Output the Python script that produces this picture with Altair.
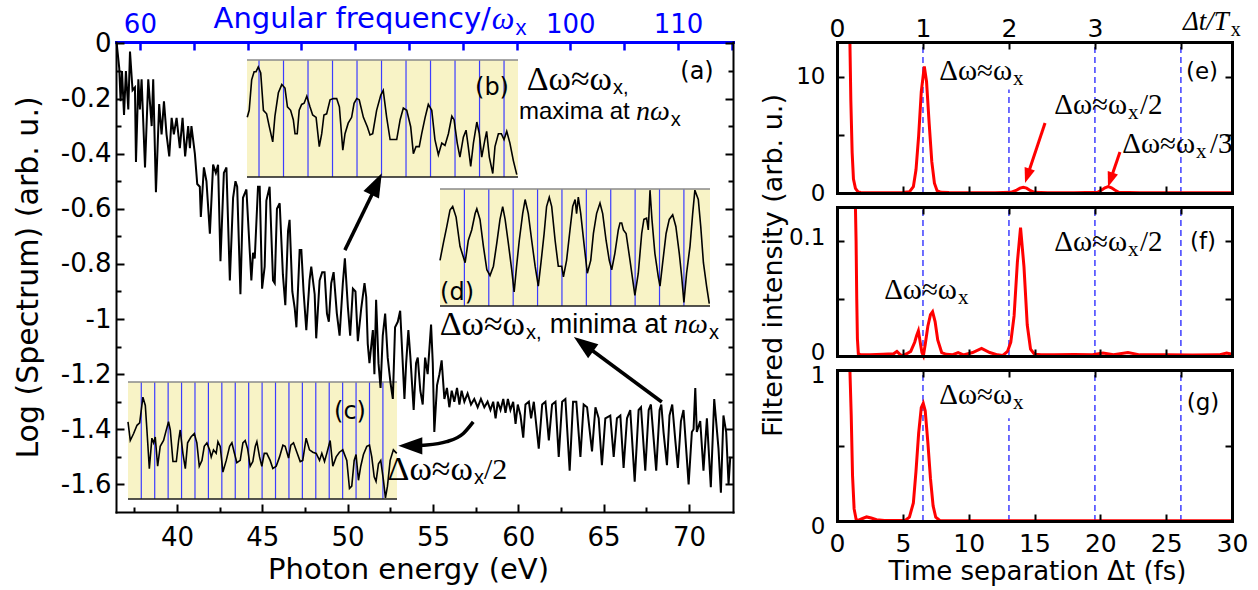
import altair as alt
import pandas as pd

W, H = 1258, 590
SANS, ARIAL, SERIF = "DejaVu Sans", "Liberation Sans", "Liberation Serif"
BLUE, RED = "#0000ff", "#ff0000"
YELLOW, GRID_BLUE, DASH_BLUE = "#f8f3c6", "#3c3cff", "#2020ff"
HEAD = "M0,0L0.36,1L-0.36,1Z"   # arrow head, tip at the anchor point

# ---------------- panel (a): photon spectrum (eV, log10 spectrum) ----------------
spectrum = [
    (36.47, 0.00), (36.62, -0.09), (36.70, -0.21), (36.78, -0.10), (36.90, -0.26), (37.01, -0.10),
    (37.15, -0.24), (37.25, -0.03), (37.40, -0.17), (37.54, -0.16), (37.60, -0.43), (37.74, -0.13),
    (37.83, -0.24), (37.93, -0.13), (38.13, -0.45), (38.32, -0.13), (38.52, -0.30), (38.61, -0.13),
    (38.77, -0.54), (38.96, -0.22), (39.10, -0.33), (39.24, -0.21), (39.39, -0.33), (39.55, -0.41),
    (39.69, -0.27), (39.82, -0.33), (39.98, -0.27), (40.17, -0.38), (40.33, -0.27), (40.48, -0.41),
    (40.66, -0.30), (40.76, -0.38), (40.85, -0.30), (41.05, -0.40), (41.19, -0.51), (41.34, -0.52),
    (41.40, -0.63), (41.58, -0.45), (41.73, -0.50), (41.93, -0.69), (42.12, -0.44), (42.28, -0.47),
    (42.41, -0.44), (42.55, -0.79), (42.75, -0.47), (42.90, -0.45), (43.10, -0.86), (43.29, -0.56),
    (43.43, -0.50), (43.53, -0.52), (43.72, -0.91), (43.87, -0.56), (44.07, -0.53), (44.36, -0.86),
    (44.46, -0.76), (44.56, -0.78), (44.75, -0.52), (44.85, -0.52), (44.99, -0.89), (45.14, -0.81),
    (45.24, -0.57), (45.43, -0.52), (45.63, -0.86), (45.73, -0.87), (45.86, -0.60), (46.02, -0.58),
    (46.21, -0.84), (46.35, -0.95), (46.51, -0.68), (46.60, -0.64), (46.76, -0.90), (46.90, -0.96),
    (47.00, -1.03), (47.19, -0.75), (47.29, -0.75), (47.42, -0.90), (47.58, -1.04), (47.77, -0.86),
    (47.87, -0.81), (48.07, -0.91), (48.16, -1.07), (48.36, -0.86), (48.51, -0.83), (48.65, -0.83),
    (48.79, -0.98), (48.90, -1.01), (49.04, -0.87), (49.18, -0.83), (49.37, -0.98), (49.53, -1.06),
    (49.72, -0.87), (49.84, -0.78), (50.02, -0.96), (50.15, -1.06), (50.31, -0.89), (50.46, -0.90),
    (50.60, -1.08), (50.80, -0.96), (50.99, -0.87), (51.09, -0.92), (51.18, -1.09), (51.28, -1.16),
    (51.38, -1.10), (51.48, -1.04), (51.57, -1.20), (51.67, -0.93), (51.81, -1.16), (51.93, -1.25),
    (52.06, -1.06), (52.20, -0.98), (52.35, -1.14), (52.51, -1.23), (52.65, -1.29), (52.78, -1.03),
    (52.94, -1.01), (53.08, -0.97), (53.23, -1.16), (53.33, -1.29), (53.43, -1.16), (53.56, -1.04),
    (53.68, -1.14), (53.87, -1.33), (54.01, -1.16), (54.11, -1.14), (54.26, -1.26), (54.40, -1.31),
    (54.54, -1.14), (54.69, -1.20), (54.89, -1.02), (54.99, -1.16), (55.08, -1.41), (55.24, -1.24),
    (55.38, -1.20), (55.51, -1.15), (55.67, -1.29), (55.82, -1.25), (55.96, -1.32), (56.10, -1.26),
    (56.25, -1.30), (56.41, -1.25), (56.55, -1.31), (56.68, -1.26), (56.84, -1.30), (57.03, -1.27),
    (57.23, -1.31), (57.42, -1.29), (57.62, -1.32), (57.81, -1.29), (58.01, -1.32), (58.20, -1.30),
    (58.37, -1.33), (58.53, -1.30), (58.67, -1.36), (58.80, -1.30), (58.96, -1.33), (59.12, -1.29),
    (59.25, -1.34), (59.39, -1.29), (59.54, -1.33), (59.70, -1.30), (59.84, -1.38), (59.97, -1.31),
    (60.13, -1.35), (60.29, -1.43), (60.42, -1.31), (60.62, -1.30), (60.75, -1.36), (60.91, -1.30),
    (61.20, -1.47), (61.40, -1.31), (61.59, -1.30), (61.79, -1.44), (61.98, -1.31), (62.18, -1.30),
    (62.37, -1.50), (62.57, -1.30), (62.76, -1.29), (63.01, -1.55), (63.21, -1.30), (63.40, -1.30),
    (63.64, -1.50), (63.83, -1.31), (64.03, -1.32), (64.32, -1.48), (64.52, -1.32), (64.71, -1.36),
    (64.90, -1.53), (65.10, -1.36), (65.39, -1.35), (65.59, -1.50), (65.78, -1.36), (65.98, -1.35),
    (66.17, -1.54), (66.37, -1.36), (66.56, -1.33), (66.82, -1.59), (67.05, -1.33), (67.19, -1.32),
    (67.44, -1.55), (67.64, -1.33), (67.77, -1.31), (68.08, -1.55), (68.28, -1.33), (68.38, -1.31),
    (68.51, -1.41), (68.71, -1.53), (68.86, -1.35), (69.02, -1.31), (69.20, -1.44), (69.35, -1.54),
    (69.53, -1.37), (69.68, -1.33), (69.98, -1.60), (70.17, -1.41), (70.27, -1.40), (70.37, -1.25),
    (70.46, -1.41), (70.66, -1.37), (70.85, -1.55), (71.05, -1.36), (71.28, -1.61), (71.48, -1.29),
    (71.73, -1.47), (71.87, -1.63), (72.02, -1.35), (72.18, -1.41), (72.32, -1.60), (72.42, -1.50),
]

# ---------------- insets: (frequency in units of omega_x from first marker, normalised signal) ----------------
inset_b = [
    (-0.48, 0.51), (-0.40, 0.57), (-0.30, 0.83), (-0.20, 0.90), (-0.12, 0.90), (-0.03, 0.94), (0.07, 0.89),
    (0.18, 0.57), (0.31, 0.54), (0.42, 0.43), (0.56, 0.30), (0.65, 0.52), (0.79, 0.72), (0.93, 0.79),
    (1.06, 0.76), (1.16, 0.60), (1.29, 0.57), (1.40, 0.49), (1.47, 0.37), (1.56, 0.37), (1.64, 0.57),
    (1.74, 0.62), (1.84, 0.63), (1.95, 0.69), (2.08, 0.60), (2.19, 0.53), (2.33, 0.51), (2.46, 0.26),
    (2.56, 0.37), (2.65, 0.53), (2.76, 0.54), (2.90, 0.66), (3.03, 0.67), (3.17, 0.67), (3.28, 0.60),
    (3.42, 0.23), (3.51, 0.37), (3.64, 0.46), (3.78, 0.51), (3.88, 0.63), (3.99, 0.67), (4.09, 0.66),
    (4.26, 0.51), (4.42, 0.43), (4.53, 0.36), (4.64, 0.37), (4.80, 0.57), (4.97, 0.70), (5.07, 0.74),
    (5.21, 0.51), (5.35, 0.32), (5.46, 0.32), (5.62, 0.32), (5.76, 0.49), (5.89, 0.59), (6.03, 0.57),
    (6.19, 0.43), (6.30, 0.20), (6.41, 0.26), (6.54, 0.26), (6.64, 0.37), (6.78, 0.51), (6.91, 0.62),
    (7.05, 0.57), (7.18, 0.32), (7.32, 0.19), (7.46, 0.29), (7.59, 0.27), (7.73, 0.37), (7.87, 0.52),
    (7.96, 0.49), (8.09, 0.29), (8.20, 0.17), (8.34, 0.34), (8.45, 0.40), (8.54, 0.26), (8.64, 0.09),
    (8.75, 0.29), (8.89, 0.47), (8.99, 0.37), (9.09, 0.17), (9.22, 0.32), (9.29, 0.39), (9.40, 0.17),
    (9.54, 0.03), (9.63, 0.26), (9.77, 0.37), (9.89, 0.37), (10.00, 0.32), (10.11, 0.39), (10.24, 0.29),
    (10.38, 0.14), (10.52, 0.02),
]
inset_c = [
    (-0.99, 0.66), (-0.82, 0.50), (-0.57, 0.56), (-0.32, 0.63), (-0.12, 0.65), (0.12, 0.87), (0.30, 0.80),
    (0.42, 0.59), (0.60, 0.26), (0.79, 0.52), (0.92, 0.48), (1.04, 0.53), (1.22, 0.28), (1.41, 0.45),
    (1.66, 0.50), (1.84, 0.58), (2.03, 0.66), (2.16, 0.59), (2.36, 0.32), (2.61, 0.32), (2.78, 0.50),
    (2.90, 0.59), (3.10, 0.39), (3.28, 0.26), (3.45, 0.48), (3.70, 0.53), (3.95, 0.56), (4.14, 0.48),
    (4.32, 0.28), (4.52, 0.33), (4.69, 0.45), (4.89, 0.48), (5.09, 0.42), (5.21, 0.36), (5.38, 0.42),
    (5.58, 0.39), (5.71, 0.49), (5.88, 0.45), (6.08, 0.23), (6.33, 0.33), (6.58, 0.45), (6.75, 0.48),
    (6.92, 0.40), (7.12, 0.31), (7.37, 0.33), (7.57, 0.48), (7.74, 0.50), (7.92, 0.43), (8.11, 0.28),
    (8.31, 0.32), (8.49, 0.45), (8.61, 0.49), (8.81, 0.36), (8.98, 0.28), (9.16, 0.39), (9.35, 0.39),
    (9.60, 0.33), (9.80, 0.26), (10.05, 0.28), (10.30, 0.36), (10.55, 0.46), (10.72, 0.45), (10.97, 0.35),
    (11.14, 0.46), (11.34, 0.48), (11.59, 0.40), (11.84, 0.32), (12.03, 0.33), (12.28, 0.52), (12.53, 0.42),
    (12.78, 0.40), (13.03, 0.39), (13.28, 0.33), (13.45, 0.39), (13.65, 0.32), (13.82, 0.39), (14.07, 0.50),
    (14.27, 0.28), (14.52, 0.36), (14.76, 0.40), (15.01, 0.42), (15.31, 0.33), (15.51, 0.09), (15.68, 0.11),
    (15.86, 0.33), (16.00, 0.38), (16.18, 0.16), (16.35, 0.28), (16.55, 0.38), (16.80, 0.45), (17.00, 0.46),
    (17.17, 0.36), (17.35, 0.19), (17.49, 0.15), (17.67, 0.30), (17.84, 0.33), (18.04, 0.16), (18.19, 0.01),
    (18.34, 0.11), (18.54, 0.33), (18.78, 0.42), (19.03, 0.39),
]
inset_d = [
    (-1.00, 0.39), (-0.86, 0.54), (-0.72, 0.68), (-0.59, 0.82), (-0.48, 0.85), (-0.34, 0.76), (-0.18, 0.51),
    (0.03, 0.37), (0.16, 0.56), (0.30, 0.65), (0.44, 0.79), (0.51, 0.83), (0.64, 0.74), (0.78, 0.51),
    (0.92, 0.31), (1.05, 0.26), (1.19, 0.34), (1.33, 0.54), (1.46, 0.74), (1.57, 0.85), (1.67, 0.74),
    (1.80, 0.54), (1.94, 0.31), (2.04, 0.12), (2.14, 0.34), (2.25, 0.56), (2.39, 0.79), (2.49, 0.91),
    (2.62, 0.79), (2.76, 0.56), (2.90, 0.34), (3.03, 0.17), (3.14, 0.37), (3.27, 0.62), (3.37, 0.85),
    (3.48, 0.93), (3.58, 0.85), (3.72, 0.56), (3.85, 0.34), (3.99, 0.34), (4.06, 0.25), (4.19, 0.39),
    (4.33, 0.65), (4.44, 0.85), (4.54, 0.91), (4.60, 0.79), (4.67, 0.93), (4.77, 0.79), (4.90, 0.54),
    (5.04, 0.28), (5.18, 0.39), (5.29, 0.62), (5.42, 0.79), (5.56, 0.88), (5.67, 0.79), (5.81, 0.56),
    (5.94, 0.39), (6.04, 0.31), (6.17, 0.45), (6.31, 0.65), (6.38, 0.71), (6.45, 0.71), (6.52, 0.65),
    (6.63, 0.62), (6.79, 0.39), (6.99, 0.09), (7.13, 0.28), (7.27, 0.62), (7.36, 0.74), (7.47, 0.75),
    (7.54, 0.65), (7.61, 0.99), (7.69, 0.74), (7.81, 0.45), (7.95, 0.25), (8.02, 0.17), (8.13, 0.37),
    (8.27, 0.62), (8.40, 0.74), (8.54, 0.78), (8.67, 0.68), (8.81, 0.45), (8.91, 0.25), (9.00, 0.03),
    (9.11, 0.28), (9.25, 0.51), (9.36, 0.79), (9.45, 0.99), (9.59, 0.91), (9.69, 0.68), (9.80, 0.37),
    (9.93, 0.17), (10.04, 0.02),
]

# ---------------- panels (e)-(g): filtered intensity vs time separation (fs) ----------------
filtered_e = [
    (0.98, 14.0), (1.05, 8.0), (1.15, 3.5), (1.25, 1.2), (1.40, 0.4), (1.60, 0.1), (1.80, 0.04), (2.2, 0.03),
    (3.0, 0.03), (4.0, 0.02), (5.0, 0.04), (5.5, 0.1), (5.8, 0.55), (6.0, 2.0), (6.2, 4.9), (6.4, 8.7),
    (6.63, 10.9), (6.8, 9.6), (7.0, 6.0), (7.2, 2.7), (7.4, 0.84), (7.6, 0.2), (7.9, 0.06), (8.5, 0.04),
    (10.0, 0.03), (12.0, 0.03), (13.2, 0.06), (13.6, 0.22), (13.9, 0.42), (14.15, 0.5), (14.4, 0.42),
    (14.7, 0.2), (15.0, 0.06), (16.0, 0.03), (18.0, 0.03), (19.8, 0.06), (20.1, 0.25), (20.35, 0.45),
    (20.6, 0.55), (20.85, 0.45), (21.1, 0.25), (21.4, 0.06), (23.0, 0.03), (26.0, 0.03), (30.0, 0.03),
]
filtered_f = [
    (1.40, 0.16), (1.45, 0.10), (1.50, 0.05), (1.55, 0.015), (1.62, 0.002), (1.8, 0.001), (2.5, 0.001),
    (3.5, 0.0015), (4.3, 0.002), (4.55, 0.004), (4.8, 0.0012), (5.0, 0.0004), (5.3, 0.002), (5.6, 0.004),
    (5.9, 0.012), (6.05, 0.018), (6.18, 0.022), (6.32, 0.012), (6.45, 0.003), (6.56, 0.0003), (6.7, 0.010),
    (6.9, 0.026), (7.1, 0.036), (7.26, 0.0386), (7.45, 0.030), (7.65, 0.014), (7.95, 0.003), (8.3, 0.0015),
    (8.8, 0.0012), (9.2, 0.003), (9.6, 0.001), (10.3, 0.003), (10.98, 0.0067), (11.6, 0.003), (12.2, 0.001),
    (12.6, 0.0005), (12.95, 0.004), (13.2, 0.012), (13.45, 0.035), (13.7, 0.082), (13.94, 0.112),
    (14.2, 0.078), (14.45, 0.027), (14.7, 0.006), (15.0, 0.0015), (15.5, 0.001), (16.5, 0.001),
    (18.0, 0.0012), (19.4, 0.001), (20.2, 0.0025), (21.0, 0.001), (22.1, 0.003), (23.0, 0.001),
    (25.0, 0.001), (27.0, 0.0008), (29.0, 0.001), (29.6, 0.0025), (30.0, 0.0015),
]
filtered_g = [
    (0.98, 1.2), (1.08, 0.7), (1.18, 0.3), (1.3, 0.08), (1.45, 0.012), (1.6, 0.004), (1.9, 0.015),
    (2.25, 0.027), (2.6, 0.02), (3.0, 0.008), (3.6, 0.003), (4.5, 0.003), (5.2, 0.005), (5.5, 0.025),
    (5.8, 0.12), (6.0, 0.33), (6.2, 0.58), (6.4, 0.75), (6.55, 0.78), (6.7, 0.73), (6.9, 0.52), (7.1, 0.28),
    (7.3, 0.10), (7.5, 0.025), (7.8, 0.004), (9.0, 0.002), (13.0, 0.002), (20.0, 0.001), (30.0, 0.001),
]

# ---------------- ticks ----------------
energy_major = [40, 45, 50, 55, 60, 65, 70]
energy_minor = [37.5, 42.5, 47.5, 52.5, 57.5, 62.5, 67.5]
log_major = [0, -0.2, -0.4, -0.6, -0.8, -1.0, -1.2, -1.4, -1.6]
log_minor = [-0.1, -0.3, -0.5, -0.7, -0.9, -1.1, -1.3, -1.5]
omega_ticks = [60, 65, 70, 75, 80, 85, 90, 95, 100, 105, 110, 115]
omega_labels = [60, 100, 110]
time_labels = [0, 5, 10, 15, 20, 25, 30]
time_inner = [5, 10, 15, 20, 25]
period_labels = [0, 1, 2, 3]
period_ticks = [1, 2, 3, 4]
panel_yticks = {"e": [0, 5, 10], "f": [0, 0.05, 0.1], "g": [0, 0.5, 1]}
panel_ylabels = {"e": [0, 10], "f": [0, 0.1], "g": [0, 1]}
panel_label_shift = {"e": 0, "f": -4, "g": 5}

# ---------------- layout: pixel ranges and domains ----------------
SPEC_X, SPEC_Y = [116, 733], [512, 42]
E_DOM, LOG_DOM = [36.43, 72.58], [-1.70, 0.005]
OMEGA_X_EV = 0.6305
W_DOM = [E_DOM[0] / OMEGA_X_EV, E_DOM[1] / OMEGA_X_EV]
TIME_X, T_DOM = [837, 1232], [0, 30]
T_X_FS = 6.53
P_DOM = [0, T_DOM[1] / T_X_FS]
PANEL_Y = {"e": [193, 42], "f": [356, 207], "g": [521, 370]}
PANEL_DOM = {"e": [0, 13], "f": [0, 0.13], "g": [0, 1]}
INSETS = [
    (dict(x=[247, 518], y=[177, 60], u=[-0.49, 10.57], n=11), inset_b),
    (dict(x=[128, 397], y=[499, 382], u=[-0.99, 19.05], n=19), inset_c),
    (dict(x=[440, 710], y=[306, 189], u=[-1.0, 10.07], n=10), inset_d),
]
period_marks = {
    "e": [(6.53, 0, 13), (13.06, 0, 8.9), (19.59, 0, 13), (26.12, 0, 13)],
    "f": [(6.53, 0, 0.13), (13.06, 0, 0.13), (19.59, 0, 0.13), (26.12, 0, 0.13)],
    "g": [(6.53, 0, 1), (13.06, 0, 0.68), (19.59, 0, 1), (26.12, 0, 1)],
}

# ---------------- annotations ----------------
spec_tags = [(70.47, -0.104, "(a)"), (58.46, -0.162, "(b)"), (50.14, -1.337, "(c)"), (56.41, -0.906, "(d)")]
spec_dw = [(65.49, -0.133, "Δω≈ω"), (60.39, -1.022, "Δω≈ω"), (57.34, -1.548, "Δω≈ω")]
spec_sub = [(65.49, -0.133, "x,"), (60.39, -1.022, "x,"), (57.34, -1.548, "x"),
            (68.88, -0.249, "x"), (71.11, -1.022, "x")]
spec_words = [(60.04, -0.249, "maxima at", 24), (61.85, -1.022, "minima at", 27)]
spec_nw = [(66.89, -0.249, "nω"), (69.12, -1.022, "nω")]
spec_frac = [(57.99, -1.548, "/2")]
omega_title = [(92.61, 0.088, "Angular frequency/")]
omega_sym = [(92.70, 0.088, "ω")]
omega_sub = [(94.90, 0.088, "x")]
spec_arrows = [(49.84, -0.750, 51.65, -0.520), (68.41, -1.301, 63.92, -1.095)]
spec_bent_arrow = [(53.77, -1.459), (54.63, -1.457), (55.80, -1.445), (56.78, -1.415), (57.36, -1.373)]
spec_heads = [(52.00, -0.471, 26.0), (63.26, -1.065, 306.4), (52.97, -1.460, 270.0)]

panel_dw = {"e": [(13.29, 10.5), (22.03, 7.55), (27.19, 4.20)],
            "f": [(22.03, 0.0995), (9.11, 0.0576)],
            "g": [(13.29, 0.834)]}
panel_frac = {"e": [(23.01, 7.55, "/2"), (28.33, 4.20, "/3")], "f": [(23.01, 0.0995, "/2")], "g": []}
panel_tags = {"e": (27.72, 10.42, "(e)"), "f": (27.80, 0.0995, "(f)"), "g": (27.80, 0.781, "(g)")}
period_title = [(26.28, 14.72, "Δt/T")]
period_sub = [(29.90, 14.72, "x")]
e_arrows = [(15.80, 6.03, 14.52, 1.68), (21.49, 3.53, 20.83, 1.33)]
e_heads = [(14.28, 0.86, 198.4), (20.58, 0.52, 198.9)]

MINUS = "replace(format(datum.value, '~g'), '\u2212', '-')"
PLAIN = "format(datum.value, '~g')"


# ---------------- helpers ----------------
def S(dom, rng, clamp=False):
    kw = dict(domain=list(dom), range=list(rng), nice=False, zero=False)
    if clamp:
        kw["clamp"] = True
    return alt.Scale(**kw)


def xy(xdom, xrng, ydom, yrng, clamp=False, xaxis=None, yaxis=None):
    return dict(x=alt.X("x:Q", scale=S(xdom, xrng), axis=xaxis),
                y=alt.Y("y:Q", scale=S(ydom, yrng, clamp), axis=yaxis))


def spec_xy():
    return xy(E_DOM, SPEC_X, LOG_DOM, SPEC_Y)


def omega_xy():
    return xy(W_DOM, SPEC_X, LOG_DOM, SPEC_Y)


def panel_xy(p, clamp=False):
    return xy(T_DOM, TIME_X, PANEL_DOM[p], PANEL_Y[p], clamp)


def label(rows, enc, **mk):
    mk.setdefault("baseline", "middle")
    df = pd.DataFrame(rows, columns=["x", "y", "t"])
    return alt.Chart(df).mark_text(**mk).encode(text="t:N", **enc)


def shafts(rows, enc, color, width, dash=None):
    df = pd.DataFrame(rows, columns=["x", "y", "x2", "y2"])
    mk = dict(color=color, strokeWidth=width)
    if dash:
        mk["strokeDash"] = dash
    return alt.Chart(df).mark_rule(**mk).encode(x2=alt.X2("x2"), y2=alt.Y2("y2"), **enc)


def heads(rows, enc, color, size):
    df = pd.DataFrame(rows, columns=["x", "y", "a"])
    return alt.Chart(df).mark_point(shape=HEAD, filled=True, color=color, opacity=1,
                                    size=size, strokeWidth=0).encode(
        angle=alt.Angle("a:Q", scale=None), **enc)


OPP = {"bottom": "top", "top": "bottom", "left": "right", "right": "left"}


def off(orient, at):
    return {"bottom": at - H, "top": -at, "left": -at, "right": at - W}[orient]


def edge(orient, at, color="black", width=2.0, **kw):
    base = dict(orient=orient, offset=off(orient, at), domain=True, domainColor=color,
                domainWidth=width, domainCap="square", ticks=False, tickSize=0, labels=False,
                grid=False, title=None, zindex=2)
    base.update(kw)
    return alt.Axis(**base)


def inward(side, at, values, size=8, color="black", width=2.0):
    o = OPP[side]
    return alt.Axis(orient=o, offset=off(o, at), values=values, domain=False, labels=False,
                    ticks=True, tickSize=size, tickWidth=width, tickColor=color,
                    grid=False, title=None, zindex=2)


def lab(size, color="black", pad=6):
    return dict(labels=True, labelFont=SANS, labelFontSize=size, labelColor=color,
                labelPadding=pad, labelFlush=False, labelOverlap=False)


def ttl(text, x, y, size, angle=0):
    return dict(title=text, titleX=x, titleY=y, titleFont=SANS, titleFontSize=size,
                titleFontWeight="normal", titleColor="black", titleAlign="center",
                titleBaseline="middle", titleAngle=angle)


def ghost(xdom, xrng, ydom, yrng, xaxis=None, yaxis=None):
    df = pd.DataFrame({"x": [xdom[0]], "y": [ydom[0]]})
    return alt.Chart(df).mark_point(opacity=0, size=1).encode(
        **xy(xdom, xrng, ydom, yrng, xaxis=xaxis, yaxis=yaxis))


def inset_layers(box, pts):
    ud = box["u"]

    def enc():
        return dict(x=alt.X("x:Q", scale=S(ud, box["x"]), axis=None),
                    y=alt.Y("y:Q", scale=S([0, 1], box["y"]), axis=None))

    bg = alt.Chart(pd.DataFrame({"x": [ud[0]], "x2": [ud[1]], "y": [0], "y2": [1]})).mark_rect(
        color=YELLOW).encode(x2=alt.X2("x2"), y2=alt.Y2("y2"), **enc())
    marks = alt.Chart(pd.DataFrame({"x": list(range(box["n"])), "y": 0, "y2": 1})).mark_rule(
        color=GRID_BLUE, strokeWidth=1.2).encode(y2=alt.Y2("y2"), **enc())
    rims = alt.Chart(pd.DataFrame({"x": [ud[0], ud[0]], "x2": [ud[1], ud[1]], "y": [0, 1],
                                   "c": ["#1a1a1a", "#8a8a8a"]})).mark_rule(strokeWidth=1.5).encode(
        x2=alt.X2("x2"), color=alt.Color("c:N", scale=None), **enc())
    curve = alt.Chart(pd.DataFrame(pts, columns=["x", "y"])).mark_line(
        color="black", strokeWidth=1.6).encode(**enc())
    return [bg, marks, rims, curve]


# ---------------- build ----------------
layers = []
for box, pts in INSETS:
    layers += inset_layers(box, pts)

layers.append(alt.Chart(pd.DataFrame(spectrum, columns=["x", "y"])).mark_line(
    color="black", strokeWidth=2).encode(**spec_xy()))
layers.append(shafts(spec_arrows, spec_xy(), "black", 3.5))
layers.append(alt.Chart(pd.DataFrame(spec_bent_arrow, columns=["x", "y"])).mark_line(
    color="black", strokeWidth=3.5, interpolate="monotone").encode(**spec_xy()))
layers.append(heads(spec_heads, spec_xy(), "black", 2304))

curves = {"e": filtered_e, "f": filtered_f, "g": filtered_g}
for p in "efg":
    layers.append(shafts([(t, a, t, b) for t, a, b in period_marks[p]], panel_xy(p),
                         DASH_BLUE, 1.3, dash=[6, 4]))
    layers.append(alt.Chart(pd.DataFrame(curves[p], columns=["x", "y"])).mark_line(
        color=RED, strokeWidth=3).encode(**panel_xy(p, clamp=True)))
layers.append(shafts(e_arrows, panel_xy("e"), RED, 3))
layers.append(heads(e_heads, panel_xy("e"), RED, 900))

# frame, ticks and labels of panel (a)
layers.append(ghost(E_DOM, SPEC_X, LOG_DOM, SPEC_Y,
                    edge("bottom", SPEC_Y[0], values=energy_major, **lab(26, pad=12),
                         **ttl("Photon energy (eV)", 408, 57, 29)),
                    edge("left", SPEC_X[0], values=log_major, labelExpr=MINUS, **lab(26, pad=5),
                         **ttl("Log (Spectrum) (arb. u.)", 28 - SPEC_X[0], 277, 30, 270))))
layers.append(ghost(W_DOM, SPEC_X, LOG_DOM, SPEC_Y,
                    edge("top", SPEC_Y[1], color=BLUE, width=3, values=omega_labels, **lab(26, BLUE, 5)),
                    edge("left", SPEC_X[1], values=log_major, ticks=True, tickSize=8, tickWidth=2,
                         tickColor="black")))
layers.append(ghost(E_DOM, SPEC_X, LOG_DOM, SPEC_Y,
                    inward("bottom", SPEC_Y[0], energy_major, 8), inward("left", SPEC_X[0], log_major, 8)))
layers.append(ghost(E_DOM, SPEC_X, LOG_DOM, SPEC_Y,
                    inward("bottom", SPEC_Y[0], energy_minor, 5), inward("left", SPEC_X[0], log_minor, 5)))
layers.append(ghost(W_DOM, SPEC_X, LOG_DOM, SPEC_Y,
                    inward("top", SPEC_Y[1], omega_ticks, 8, BLUE, 2.5), inward("right", SPEC_X[1], log_minor, 5)))

# frames, ticks and labels of panels (e)-(g)
for p in "efg":
    yb, yt = PANEL_Y[p]
    ydom, yr = PANEL_DOM[p], PANEL_Y[p]
    if p == "g":
        bx = edge("bottom", yb, width=3, values=time_labels, labelExpr=PLAIN, **lab(25, pad=10),
                  **ttl("Time separation Δt (fs)", 1037, 50, 26))
    else:
        bx = edge("bottom", yb, width=3)
    ly_kw = dict(values=panel_ylabels[p], labelExpr=PLAIN, labelOffset=panel_label_shift[p],
                 **lab(23, pad=12))
    if p == "f":
        ly_kw.update(ttl("Filtered intensity (arb. u.)", 773 - TIME_X[0], 265, 27, 270))
    ly = edge("left", TIME_X[0], width=3, **ly_kw)
    layers.append(ghost(T_DOM, TIME_X, ydom, yr, bx, ly))
    if p == "e":
        tx = edge("top", yt, width=3, values=period_labels, labelExpr=PLAIN, **lab(25, pad=1))
    else:
        tx = edge("top", yt, width=3)
    ry = edge("left", TIME_X[1], width=3, values=panel_yticks[p], ticks=True, tickSize=7,
              tickWidth=2, tickColor="black")
    layers.append(ghost(P_DOM, TIME_X, ydom, yr, tx, ry))
    layers.append(ghost(T_DOM, TIME_X, ydom, yr, inward("bottom", yb, time_inner, 7),
                        inward("left", TIME_X[0], panel_yticks[p], 7)))
    layers.append(ghost(P_DOM, TIME_X, ydom, yr, inward("top", yt, period_ticks, 7), None))

# text annotations
layers += [
    label(spec_tags, spec_xy(), font=SANS, fontSize=24, align="center"),
    label(spec_dw, spec_xy(), font=SERIF, fontSize=34, align="right"),
    label(spec_sub, spec_xy(), font=ARIAL, fontSize=20, align="left", dx=1, dy=8),
    label(spec_nw, spec_xy(), font=SERIF, fontStyle="italic", fontSize=28, align="left"),
    label(spec_frac, spec_xy(), font=SERIF, fontSize=30, align="left"),
    label(omega_title, omega_xy(), font=SANS, fontSize=29, align="right", color=BLUE),
    label(omega_sym, omega_xy(), font=SERIF, fontStyle="italic", fontSize=32, align="left", color=BLUE),
    label(omega_sub, omega_xy(), font=ARIAL, fontSize=22, align="left", dy=9, color=BLUE),
]
for x, y, t, size in spec_words:
    layers.append(label([(x, y, t)], spec_xy(), font=ARIAL, fontSize=size, align="left"))
for p in "efg":
    layers.append(label([(x, y, "Δω≈ω") for x, y in panel_dw[p]], panel_xy(p),
                        font=SERIF, fontSize=29, align="right"))
    layers.append(label([(x, y, "x") for x, y in panel_dw[p]], panel_xy(p),
                        font=SERIF, fontSize=21, align="left", dx=1, dy=8))
    if panel_frac[p]:
        layers.append(label(panel_frac[p], panel_xy(p), font=SERIF, fontSize=29, align="left"))
    layers.append(label([panel_tags[p]], panel_xy(p), font=SANS, fontSize=23, align="center"))
layers.append(label(period_title, panel_xy("e"), font=SERIF, fontStyle="italic", fontSize=27, align="left"))
layers.append(label(period_sub, panel_xy("e"), font=SERIF, fontSize=20, align="left", dy=8))

chart = (
    alt.layer(*layers)
    .resolve_scale(x="independent", y="independent")
    .properties(width=W, height=H, autosize=alt.AutoSizeParams(type="none"), padding=0)
    .configure_view(stroke=None)
)
chart.save("out.html", embed_options={"renderer": "svg", "actions": False})
